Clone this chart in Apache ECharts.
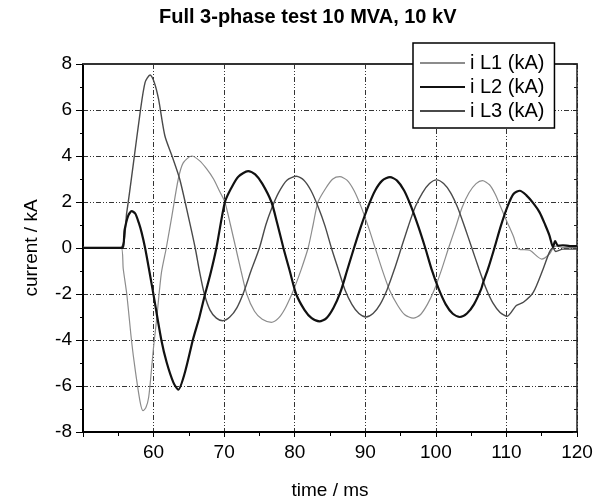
<!DOCTYPE html>
<html>
<head>
<meta charset="utf-8">
<script src="https://cdn.jsdelivr.net/npm/echarts@6/dist/echarts.min.js"></script>
<style>
  html, body { margin: 0; padding: 0; background: #fff; }
  #chart { width: 605px; height: 503px; }
</style>
</head>
<body>
<div id="chart"></div>
<script>
// time (ms) and current (kA), one pair of arrays per phase
var timeL1 = [50, 55.4, 55.7, 56.2, 56.9, 57.4, 58.1, 58.5, 58.9, 59.3, 59.7, 60.0, 60.4, 61.1, 61.8, 62.6, 63.5, 64.2, 65.4, 66.5, 67.5, 68.5, 69.3, 70.1, 70.9, 71.65, 72.4, 73.2, 74.3, 75.4, 76.7, 77.7, 78.6, 79.6, 80.0, 80.9, 81.9, 82.6, 83.3, 84.4, 85.4, 86.4, 87.4, 88.4, 89.4, 90.4, 91.4, 92.4, 93.4, 94.6, 95.6, 96.8, 97.8, 98.8, 99.8, 100.8, 101.8, 102.8, 103.7, 104.7, 105.7, 106.6, 107.6, 108.4, 109.1, 110.0, 111.0, 111.7, 113.3, 115.0, 116.1, 116.6, 117.0, 118.0, 120];
var curL1 = [0.03, 0.03, -0.9, -2.0, -4.1, -5.3, -6.7, -7.07, -6.95, -6.5, -5.3, -4.3, -3.2, -1.1, 0, 1.4, 3.0, 3.7, 4.0, 3.8, 3.45, 3.0, 2.5, 2.0, 1.0, 0, -1.0, -2.0, -2.75, -3.1, -3.23, -3.05, -2.65, -2.0, -1.7, -0.95, 0, 1.0, 2.0, 2.6, 3.0, 3.1, 2.95, 2.5, 1.8, 0.95, 0, -0.95, -1.8, -2.5, -2.9, -3.05, -2.9, -2.45, -1.8, -0.95, 0, 0.9, 1.75, 2.4, 2.8, 2.93, 2.75, 2.35, 1.85, 1.2, 0.5, -0.04, -0.1, -0.48, -0.26, 0, 0.08, 0.03, 0.02];

var timeL2 = [50, 55.5, 55.9, 56.4, 56.9, 57.4, 57.9, 58.3, 58.8, 59.4, 60.0, 61.1, 61.85, 62.8, 63.5, 64.45, 65.6, 66.5, 67.3, 68.0, 68.9, 70.1, 71.0, 72.0, 73.4, 74.4, 75.4, 76.7, 77.5, 78.4, 79.3, 80.2, 81.4, 82.4, 83.5, 84.5, 85.5, 86.5, 87.4, 88.4, 89.4, 90.4, 91.4, 92.4, 93.5, 94.5, 95.5, 96.5, 97.5, 98.5, 99.4, 100.4, 101.4, 102.4, 103.4, 104.4, 105.4, 106.4, 106.7, 107.4, 108.3, 109.2, 110.2, 111.0, 111.9, 112.8, 113.8, 114.7, 115.5, 116.1, 116.6, 116.9, 117.3, 118, 119, 120];
var curL2 = [0, 0, 0.8, 1.4, 1.6, 1.5, 1.1, 0.68, 0, -1.0, -2.05, -4.0, -4.97, -5.84, -6.16, -5.4, -3.96, -3.0, -2.0, -1.2, 0, 1.99, 2.6, 3.1, 3.34, 3.2, 2.8, 2.0, 1.1, 0, -1.0, -2.0, -2.7, -3.05, -3.19, -3.05, -2.6, -1.9, -1.0, 0, 0.95, 1.8, 2.5, 2.93, 3.08, 2.93, 2.5, 1.8, 0.95, 0, -0.93, -1.78, -2.45, -2.86, -3.0, -2.85, -2.45, -1.8, -1.5, -0.9, 0, 0.95, 1.84, 2.35, 2.49, 2.3, 1.95, 1.55, 1.0, 0.54, 0.04, 0.3, 0.1, 0.12, 0.08, 0.08];

var timeL3 = [50, 55.3, 56.2, 57.1, 58.1, 58.8, 59.5, 60.1, 60.7, 61.6, 62.6, 63.7, 64.9, 65.9, 66.5, 67.2, 68.0, 68.9, 69.8, 70.8, 71.8, 72.8, 73.8, 75.0, 75.9, 76.7, 77.7, 78.9, 80.25, 81.3, 82.3, 83.3, 84.3, 85.2, 86.2, 87.1, 88.1, 89.1, 90.1, 91.1, 92.1, 93.1, 94.1, 95.1, 96.1, 97.1, 98.1, 99.1, 100.1, 101.1, 102.1, 103.1, 104.1, 105.1, 106.1, 107.1, 108.1, 109.1, 110.1, 111.4, 112.4, 113.8, 115.2, 116.1, 116.6, 117.0, 118, 120];
var curL3 = [0.02, 0.02, 1.55, 3.58, 5.9, 7.2, 7.52, 7.2, 6.48, 4.88, 4.01, 3.0, 1.41, 0, -1.0, -2.0, -2.7, -3.05, -3.16, -3.0, -2.6, -1.9, -1.0, 0, 1.0, 1.7, 2.4, 2.95, 3.12, 2.95, 2.5, 1.8, 0.95, 0, -0.95, -1.8, -2.45, -2.85, -3.0, -2.85, -2.45, -1.8, -0.95, 0, 0.95, 1.8, 2.4, 2.8, 2.96, 2.8, 2.4, 1.75, 0.9, 0, -0.9, -1.75, -2.4, -2.8, -2.97, -2.5, -2.36, -1.93, -0.91, -0.18, 0, -0.15, -0.05, -0.05];

var seriesNames = ['i L1 (kA)', 'i L2 (kA)', 'i L3 (kA)'];
var xTicks = [50, 120, 10];   // min, max, step
var yTicks = [-8, 8, 2];

function pairs(t, v) {
  return t.map(function (x, i) { return [x, v[i]]; });
}

var font = 'Liberation Sans, Arial, sans-serif';
var gridLine = { color: '#333', width: 1, type: [5, 2, 1, 2, 1, 2] };

var chart = echarts.init(document.getElementById('chart'), null, { renderer: 'canvas' });

var option = {
  animation: false,
  backgroundColor: '#fff',
  title: {
    text: 'Full 3-phase test 10 MVA, 10 kV',
    left: 159,
    top: 7,
    padding: 0,
    textStyle: { fontFamily: font, fontSize: 20, fontWeight: 'bold', color: '#000' }
  },
  legend: {
    data: seriesNames,
    orient: 'vertical',
    left: 413,
    top: 43,
    padding: [10, 10, 7, 7],
    itemGap: 4,
    itemWidth: 45,
    itemHeight: 2,
    icon: 'rect',
    backgroundColor: '#fff',
    borderColor: '#000',
    borderWidth: 1.5,
    borderRadius: 0,
    textStyle: { fontFamily: font, fontSize: 20, color: '#000', lineHeight: 20 }
  },
  grid: {
    left: 83,
    right: 28,
    top: 64,
    bottom: 71,
    containLabel: false,
    outerBoundsMode: 'none'
  },
  xAxis: [
    {
      type: 'value',
      position: 'bottom',
      min: xTicks[0],
      max: xTicks[1],
      interval: xTicks[2],
      name: 'time / ms',
      nameLocation: 'middle',
      nameGap: 49,
      nameTextStyle: { fontFamily: font, fontSize: 19, color: '#000' },
      axisLine: { show: true, onZero: false, lineStyle: { color: '#000', width: 2 } },
      axisTick: { show: true, inside: false, length: 5, lineStyle: { color: '#000' } },
      minorTick: { show: true, splitNumber: 2, length: 4, lineStyle: { color: '#000' } },
      axisLabel: { fontFamily: font, fontSize: 19, color: '#000', margin: 11, showMinLabel: false },
      splitLine: { show: true, lineStyle: gridLine }
    },
    {
      type: 'value',
      position: 'top',
      min: xTicks[0],
      max: xTicks[1],
      interval: xTicks[2],
      axisLine: { show: true, onZero: false, lineStyle: { color: '#333', width: 2 } },
      axisTick: { show: false },
      axisLabel: { show: false },
      splitLine: { show: false }
    }
  ],
  yAxis: [
    {
      type: 'value',
      position: 'left',
      min: yTicks[0],
      max: yTicks[1],
      interval: yTicks[2],
      name: 'current / kA',
      nameLocation: 'middle',
      nameGap: 42,
      nameTextStyle: { fontFamily: font, fontSize: 19, color: '#000' },
      axisLine: { show: true, onZero: false, lineStyle: { color: '#000', width: 2 } },
      axisTick: { show: true, inside: false, length: 7, lineStyle: { color: '#000' } },
      minorTick: { show: true, splitNumber: 2, length: 3, lineStyle: { color: '#000' } },
      axisLabel: { fontFamily: font, fontSize: 19, color: '#000', margin: 11 },
      splitLine: { show: true, lineStyle: gridLine }
    },
    {
      type: 'value',
      position: 'right',
      min: yTicks[0],
      max: yTicks[1],
      interval: yTicks[2],
      axisLine: { show: true, onZero: false, lineStyle: { color: '#222', width: 1.5 } },
      axisTick: { show: true, inside: true, length: 4, lineStyle: { color: '#222' } },
      minorTick: { show: true, splitNumber: 2, length: 3, lineStyle: { color: '#222' } },
      axisLabel: { show: false },
      splitLine: { show: false }
    }
  ],
  series: [
    {
      name: seriesNames[0],
      type: 'line',
      xAxisIndex: 0,
      yAxisIndex: 0,
      showSymbol: false,
      smooth: 0.25,
      data: pairs(timeL1, curL1),
      color: '#8c8c8c',
      lineStyle: { color: '#8c8c8c', width: 1.2 },
      z: 3
    },
    {
      name: seriesNames[1],
      type: 'line',
      xAxisIndex: 0,
      yAxisIndex: 0,
      showSymbol: false,
      smooth: 0.25,
      data: pairs(timeL2, curL2),
      color: '#111',
      lineStyle: { color: '#111', width: 2.2 },
      z: 4
    },
    {
      name: seriesNames[2],
      type: 'line',
      xAxisIndex: 0,
      yAxisIndex: 0,
      showSymbol: false,
      smooth: 0.25,
      data: pairs(timeL3, curL3),
      color: '#4a4a4a',
      lineStyle: { color: '#4a4a4a', width: 1.4 },
      z: 3
    }
  ]
};

chart.setOption(option);
</script>
</body>
</html>
